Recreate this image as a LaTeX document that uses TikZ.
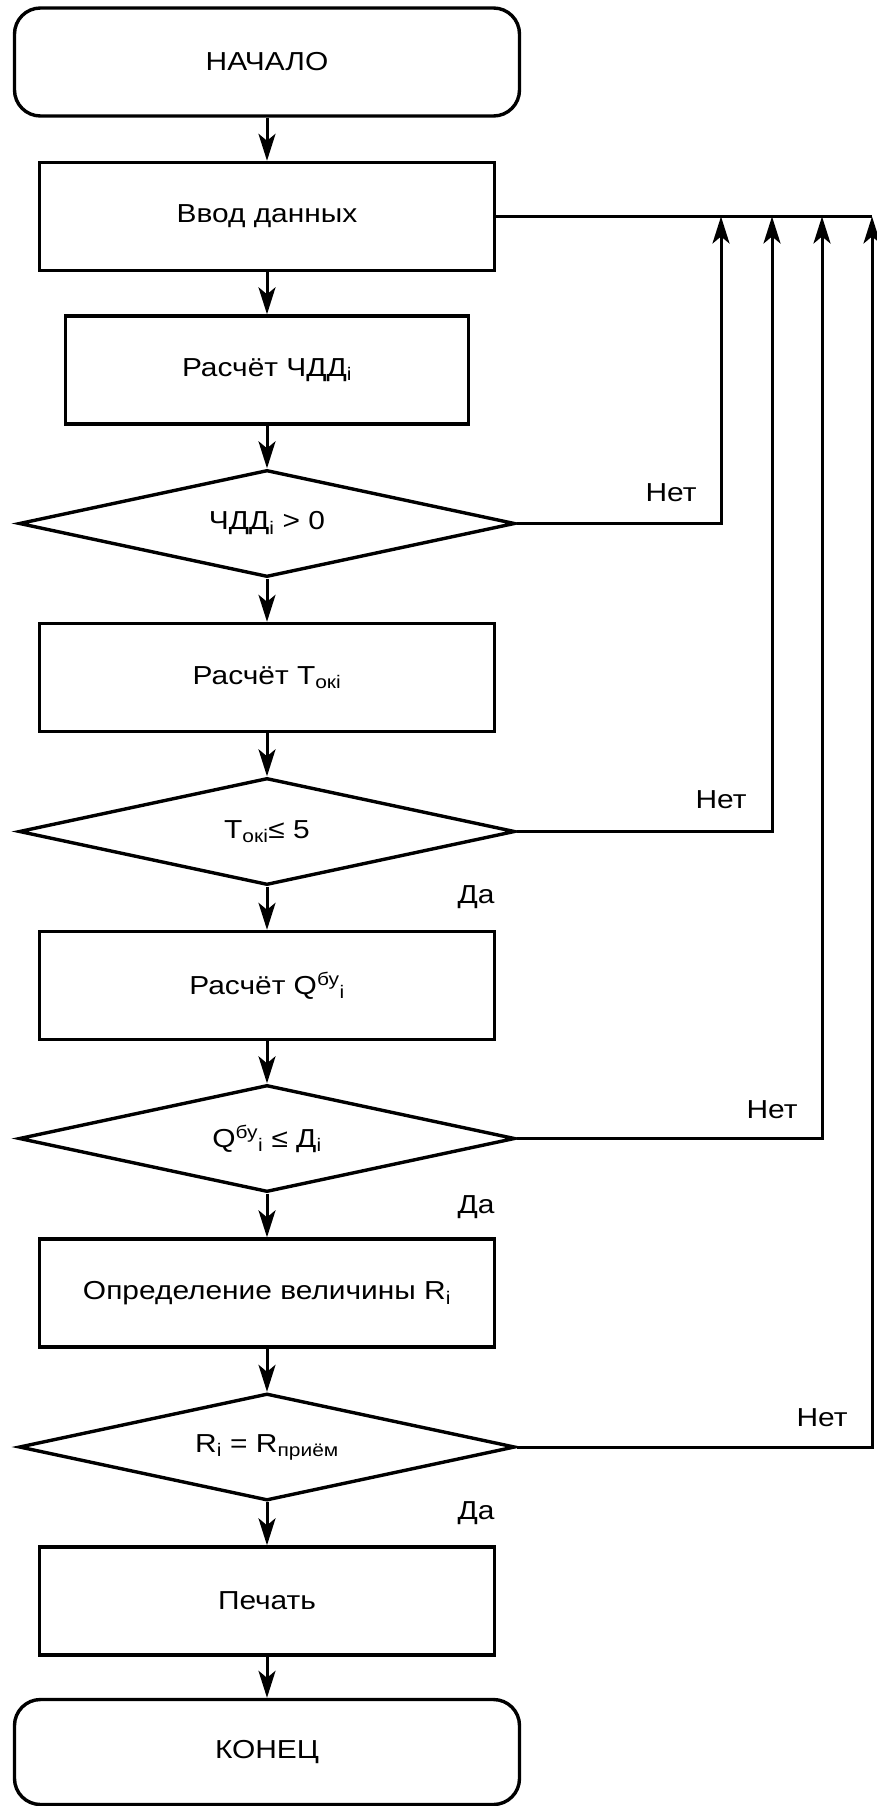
\documentclass[tikz,border=0pt]{standalone}
\usepackage{fontspec}
\setmainfont{Liberation Sans}[FakeStretch=1.15]
\usetikzlibrary{shapes.geometric,arrows.meta}
\tikzset{
  every node/.style={font=\fontsize{26}{31}\selectfont},
  boxnode/.style={draw, line width=3.4pt, rectangle, minimum width=455pt, minimum height=108pt, inner sep=0pt},
  termnode/.style={draw, line width=3.4pt, rectangle, rounded corners=26pt, minimum width=505pt, minimum height=108pt, inner sep=0pt},
  decnode/.style={draw, line width=3.4pt, diamond, aspect=4.6, minimum width=496pt, minimum height=107pt, inner sep=0pt},
  conn/.style={line width=3pt, -{Stealth[length=27pt,width=17pt,inset=7pt]}},
  plainline/.style={line width=3pt},
  lbl/.style={inner sep=0pt}
}
\begin{document}
\begin{tikzpicture}[x=1pt,y=-1pt]
\useasboundingbox (0,0) rectangle (876,1806);
\node[termnode] (start) at (267,62) {НАЧАЛО};
\node[boxnode] (vvod) at (267,216.5) {Ввод данных};
\node[boxnode, minimum width=403pt] (chdd) at (267,370) {Расчёт ЧДД\textsubscript{i}};
\node[decnode] (d1) at (267,523.5) {ЧДД\textsubscript{i} > 0};
\node[boxnode] (tok) at (267,677.5) {Расчёт Т\textsubscript{окі}};
\node[decnode] (d2) at (267,831.5) {Т\textsubscript{окі}≤ 5};
\node[boxnode] (qb) at (267,985.5) {Расчёт Q\textsuperscript{бу}\textsubscript{i}};
\node[decnode] (d3) at (267,1138.5) {Q\textsuperscript{бу}\textsubscript{i} ≤ Д\textsubscript{i}};
\node[boxnode] (opr) at (267,1293) {Определение величины R\textsubscript{i}};
\node[decnode] (d4) at (267,1447) {R\textsubscript{i} = R\textsubscript{приём}};
\node[boxnode] (pech) at (267,1601) {Печать};
\node[termnode, minimum height=105pt] (fin) at (267,1752) {КОНЕЦ};

\coordinate (f1) at (721,216.5);
\coordinate (f2) at (772,216.5);
\coordinate (f3) at (822,216.5);
\coordinate (f4) at (872,216.5);

\draw[conn] (start) -- (vvod);
\draw[conn] (vvod) -- (chdd);
\draw[conn] (chdd) -- (d1);
\draw[conn] (d1) -- (tok);
\draw[conn] (tok) -- (d2);
\draw[conn] (d2) -- (qb);
\draw[conn] (qb) -- (d3);
\draw[conn] (d3) -- (opr);
\draw[conn] (opr) -- (d4);
\draw[conn] (d4) -- (pech);
\draw[conn] (pech) -- (fin);

\draw[plainline] (vvod.east) -- (f4);
\draw[conn] (d1.east) -| (f1);
\draw[conn] (d2.east) -| (f2);
\draw[conn] (d3.east) -| (f3);
\draw[conn] (d4.east) -| (f4);

\node[lbl] (n1) at (671,493) {Нет};
\node[lbl] (n2) at (721,800) {Нет};
\node[lbl] (n3) at (772,1110) {Нет};
\node[lbl] (n4) at (822,1418) {Нет};
\node[lbl] (y2) at (476,897) {Да};
\node[lbl] (y3) at (476,1207) {Да};
\node[lbl] (y4) at (476,1513) {Да};
\end{tikzpicture}
\end{document}
